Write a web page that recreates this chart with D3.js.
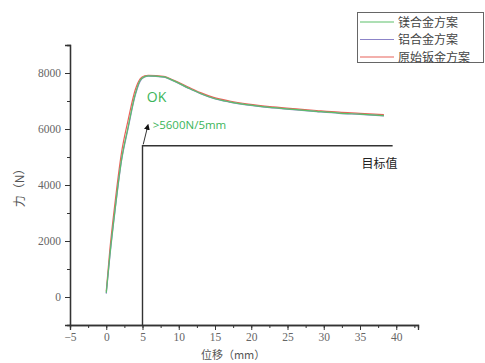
<!DOCTYPE html>
<html>
<head>
<meta charset="utf-8">
<script src="https://cdn.jsdelivr.net/npm/d3@7"></script>
<style>
  body { margin: 0; background: #fff; }
  svg { display: block; }
  .tick text { font-family: "Liberation Serif", "DejaVu Serif", serif; }
</style>
</head>
<body>
<div id="wrapper"></div>
<script>
// data
const disp = [0, 0.5, 1.2, 2.1, 3.0, 4.0, 4.7, 5.3, 5.8, 7.9, 9.5, 11.3, 13, 14.8, 17, 19.6, 23, 26.6, 29, 32.1, 35, 38.3]
const mgForce = [150, 1500, 3100, 4900, 6050, 7250, 7750, 7870, 7900, 7860, 7700, 7470, 7270, 7100, 6970, 6860, 6760, 6680, 6630, 6570, 6530, 6480]
const alForce = [120, 1450, 3050, 4850, 6000, 7200, 7720, 7860, 7890, 7850, 7690, 7460, 7260, 7090, 6960, 6850, 6750, 6670, 6620, 6560, 6520, 6470]
const steelForce = [200, 1700, 3350, 5150, 6300, 7400, 7800, 7900, 7920, 7880, 7720, 7500, 7300, 7130, 7000, 6890, 6790, 6710, 6660, 6600, 6560, 6510]
const seriesNames = ["镁合金方案", "铝合金方案", "原始钣金方案"]
const seriesColors = ["#5cbf6a", "#8c84c8", "#e8625a"]
const xTicks = [-5, 0, 5, 10, 15, 20, 25, 30, 35, 40]
const yTicks = [0, 2000, 4000, 6000, 8000]
const target = { x0: 5, x1: 39.5, force: 5400 }

const dimensions = {
  width: 485,
  height: 363,
  margin: { top: 45, right: 67, bottom: 38, left: 70 },
}
dimensions.boundedWidth = dimensions.width - dimensions.margin.left - dimensions.margin.right
dimensions.boundedHeight = dimensions.height - dimensions.margin.top - dimensions.margin.bottom

const wrapper = d3.select("#wrapper")
  .append("svg")
    .attr("width", dimensions.width)
    .attr("height", dimensions.height)

const bounds = wrapper.append("g")
    .attr("transform", `translate(${dimensions.margin.left},${dimensions.margin.top})`)

const xScale = d3.scaleLinear()
  .domain([-5, 43])
  .range([0, dimensions.boundedWidth])

const yScale = d3.scaleLinear()
  .domain([-1000, 9000])
  .range([dimensions.boundedHeight, 0])

// axes
const xAxis = bounds.append("g")
    .attr("transform", `translate(0,${dimensions.boundedHeight})`)
    .call(d3.axisBottom(xScale).tickValues(d3.range(-5, 43, 2.5)).tickSize(3).tickFormat(""))
xAxis.append("g")
    .call(d3.axisBottom(xScale).tickValues(xTicks).tickSize(5).tickPadding(3).tickFormat(d3.format("d")))

const yAxis = bounds.append("g")
    .call(d3.axisLeft(yScale).tickValues(d3.range(-1000, 9001, 1000)).tickSize(3).tickFormat(""))
yAxis.append("g")
    .call(d3.axisLeft(yScale).tickValues(yTicks).tickSize(5).tickPadding(4).tickFormat(d3.format("d")))

bounds.selectAll(".tick text")
    .attr("font-size", 11.5)
    .attr("fill", "#666")
bounds.selectAll(".domain").attr("stroke", "#333").attr("stroke-width", 1.3)
bounds.selectAll(".tick line").attr("stroke", "#333")

// axis titles
wrapper.append("text")
    .attr("transform", `translate(24,${yScale(4000) + dimensions.margin.top}) rotate(-90)`)
    .attr("text-anchor", "middle")
    .style("font-family", "'Noto Sans CJK SC', sans-serif")
    .style("font-size", "12px")
    .attr("fill", "#555")
    .text("力（N）")

wrapper.append("text")
    .attr("x", dimensions.margin.left + xScale(17.5))
    .attr("y", 359)
    .attr("text-anchor", "middle")
    .style("font-family", "'Noto Sans CJK SC', sans-serif")
    .style("font-size", "11px")
    .attr("fill", "#555")
    .text("位移（mm）")

// target lines
bounds.append("path")
    .attr("d", d3.line()([
      [xScale(target.x0), yScale(-1000)],
      [xScale(target.x0), yScale(target.force)],
      [xScale(target.x1), yScale(target.force)],
    ]))
    .attr("fill", "none")
    .attr("stroke", "#333")
    .attr("stroke-width", 1.4)

wrapper.append("defs").append("marker")
    .attr("id", "arrow")
    .attr("viewBox", "0 0 10 10")
    .attr("refX", 5).attr("refY", 5)
    .attr("markerWidth", 6).attr("markerHeight", 6)
    .attr("orient", "auto-start-reverse")
  .append("path")
    .attr("d", "M0,0 L10,5 L0,10 z")
    .attr("fill", "#111")

bounds.append("line")
    .attr("x1", xScale(5.1)).attr("y1", yScale(5450))
    .attr("x2", xScale(5.7)).attr("y2", yScale(6080))
    .attr("stroke", "#333")
    .attr("stroke-width", 1)
    .attr("marker-end", "url(#arrow)")

// series
const allForces = [mgForce, alForce, steelForce]
const lineGen = d3.line()
  .x(d => xScale(d[0]))
  .y(d => yScale(d[1]))
  .curve(d3.curveMonotoneX)

allForces.slice().reverse().forEach((forces, i) => {
  const idx = allForces.length - 1 - i
  bounds.append("path")
      .attr("d", lineGen(disp.map((d, j) => [d, forces[j]])))
      .attr("fill", "none")
      .attr("stroke", seriesColors[idx])
      .attr("stroke-width", 1.2)
})

// annotations
bounds.append("text")
    .attr("x", xScale(5.6)).attr("y", yScale(6950))
    .style("font-family", "'Open Sans', sans-serif")
    .style("font-size", "14px")
    .attr("fill", "#3cb55a")
    .text("OK")

bounds.append("text")
    .attr("x", xScale(6.4)).attr("y", yScale(6000))
    .style("font-family", "'Open Sans', sans-serif")
    .style("font-size", "11.5px")
    .attr("fill", "#3cb55a")
    .text(">5600N/5mm")

bounds.append("text")
    .attr("x", xScale(35.2)).attr("y", yScale(4620))
    .style("font-family", "'Noto Sans CJK SC', sans-serif")
    .style("font-size", "12px")
    .attr("fill", "#222")
    .text("目标值")

// legend
const legend = wrapper.append("g")
legend.append("rect")
    .attr("x", 357.5).attr("y", 12.5)
    .attr("width", 126).attr("height", 50)
    .attr("fill", "#fff")
    .attr("stroke", "#666")

seriesNames.forEach((name, i) => {
  const y = 22 + i * 17.5
  legend.append("line")
      .attr("x1", 360).attr("x2", 394)
      .attr("y1", y).attr("y2", y)
      .attr("stroke", seriesColors[i])
      .attr("stroke-width", 1.2)
  legend.append("text")
      .attr("x", 398).attr("y", y + 4.5)
      .style("font-family", "'Noto Sans CJK SC', sans-serif")
      .style("font-size", "12px")
      .attr("fill", "#444")
      .text(name)
})
</script>
</body>
</html>
